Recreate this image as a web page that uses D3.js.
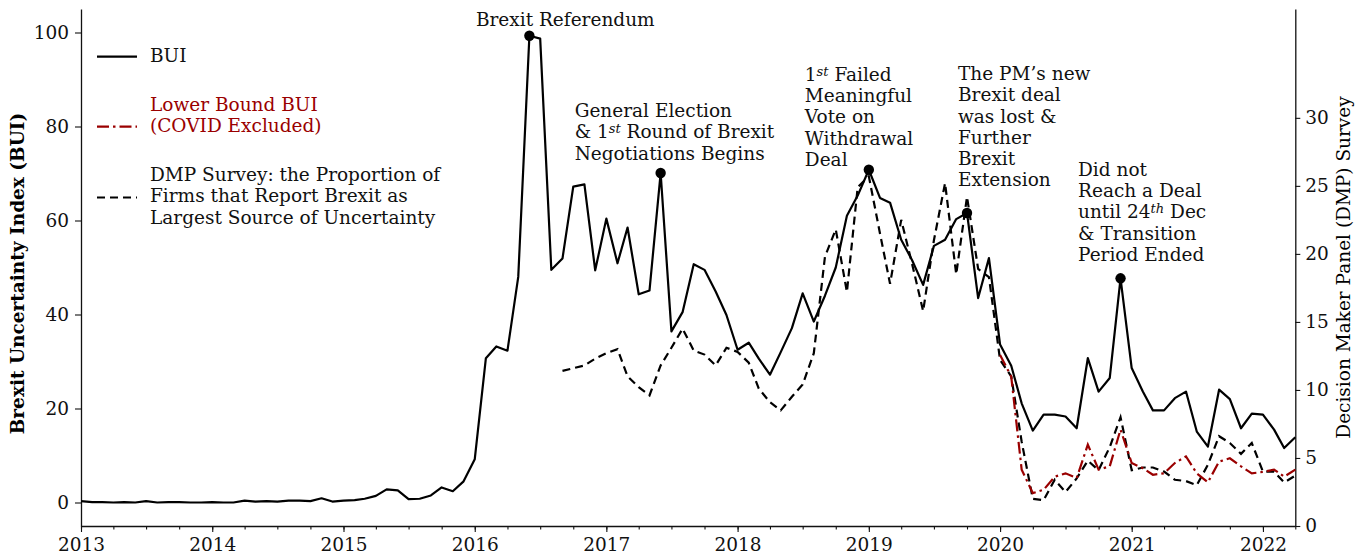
<!DOCTYPE html>
<html>
<head>
<meta charset="utf-8">
<script src="https://cdn.jsdelivr.net/npm/d3@7"></script>
<style>
	body { margin: 0; background: #fff; }
	svg { display: block; font-family: "DejaVu Serif", serif; }
</style>
</head>
<body>
<svg id="chart" width="1367" height="558"></svg>
<script>
// monthly BUI, Jan 2013 .. Apr 2022 (left axis)
const buiStart = "2013-01";
const bui = [
	0.3, 0.1, 0.1, 0.0, 0.1, 0.0, 0.3, 0.0, 0.1, 0.1, 0.0, 0.0,
	0.1, 0.0, 0.0, 0.4, 0.2, 0.3, 0.2, 0.4, 0.4, 0.3, 0.9, 0.2,
	0.4, 0.5, 0.8, 1.4, 2.8, 2.6, 0.7, 0.8, 1.5, 3.2, 2.4, 4.5,
	9.2, 30.7, 33.2, 32.3, 48.0, 99.3, 98.7, 49.5, 51.9, 67.2, 67.7, 49.4,
	60.4, 50.9, 58.5, 44.3, 45.1, 70.1, 36.4, 40.5, 50.7, 49.5, 44.9, 39.9,
	32.5, 34.0, 30.6, 27.2, 32.0, 37.1, 44.5, 38.5, 44.0, 50.0, 61.0, 65.3,
	70.8, 64.8, 63.8, 55.9, 51.6, 46.3, 54.6, 55.9, 60.3, 61.6, 43.5, 52.0,
	33.6, 29.1, 21.1, 15.3, 18.7, 18.7, 18.3, 15.8, 30.7, 23.6, 26.5, 47.7,
	28.6, 23.6, 19.6, 19.6, 22.2, 23.6, 15.1, 11.9, 24.0, 22.0, 15.8, 18.9,
	18.7, 15.5, 11.6, 13.9
];

// lower bound BUI (covid excluded), Jan 2020 .. Apr 2022 (left axis)
const lowerStart = "2020-01";
const lowerBound = [
	31.4, 26.8, 7.0, 2.0, 2.7, 5.5, 6.2, 5.2, 12.3, 7.0, 7.7, 15.5,
	8.4, 7.3, 5.9, 6.2, 8.4, 9.8, 6.2, 4.3, 8.7, 9.4, 7.7, 6.2,
	6.5, 7.0, 5.5, 7.0
];

// DMP survey share, Sep 2016 .. Apr 2022 (right axis)
const dmpStart = "2016-09";
const dmp = [
	11.4, 11.6, 11.8, 12.3,
	12.7, 13.0, 11.0, 10.2, 9.6, 11.8, 13.1, 14.5, 12.9, 12.6, 11.8, 13.1,
	12.8, 12.0, 10.1, 9.1, 8.5, 9.5, 10.4, 12.7, 19.8, 21.8, 17.2, 24.9,
	25.7, 21.5, 17.8, 22.5, 19.3, 15.8, 21.0, 25.2, 18.5, 24.2, 18.9, 18.3,
	12.2, 11.0, 6.2, 2.0, 1.9, 3.4, 2.5, 3.5, 4.8, 4.1, 5.8, 8.0,
	4.1, 4.3, 4.3, 4.0, 3.4, 3.3, 3.0, 4.5, 6.6, 6.1, 5.3, 6.1,
	4.0, 4.0, 3.2, 3.7
];

const buiTicks = [0, 20, 40, 60, 80, 100];
const dmpTicks = [0, 5, 10, 15, 20, 25, 30];

// annotated events; {xx} is a superscript
const events = [
	{month: "2016-06", lines: ["Brexit Referendum"], dx: -53.5, dy: -9.5},
	{month: "2017-06", lines: ["General Election", "& 1{st} Round of Brexit", "Negotiations Begins"], dx: -86, dy: -56},
	{month: "2019-01", lines: ["1{st} Failed", "Meaningful", "Vote on", "Withdrawal", "Deal"], dx: -64, dy: -89},
	{month: "2019-10", lines: ["The PM\u2019s new", "Brexit deal", "was lost &", "Further", "Brexit", "Extension"], dx: -9, dy: -133},
	{month: "2020-12", lines: ["Did not", "Reach a Deal", "until 24{th} Dec", "& Transition", "Period Ended"], dx: -42.5, dy: -102.5}
];

const red = "#9a0000";
const fs = 18.5;
const parseMonth = d3.timeParse("%Y-%m");

function monthly(start, values) {
	const t0 = parseMonth(start);
	return values.map((v, i) => ({date: d3.timeMonth.offset(t0, i), value: v}));
}

const svg = d3.select("#chart");
const margin = {top: 9, right: 72, bottom: 32, left: 81};
const width = 1367 - margin.left - margin.right + 0.3;
const height = 558 - margin.top - margin.bottom;

const x = d3.scaleTime()
	.domain([parseMonth("2013-01"), parseMonth("2022-04")])
	.range([0, width]);
const y = d3.scaleLinear().domain([-5, 105]).range([height, 0]);
const y2 = d3.scaleLinear().domain([0, 38]).range([height, 0]);

const g = svg.append("g").attr("transform", `translate(${margin.left},${margin.top})`);

// axes
g.append("g")
	.attr("transform", `translate(0,${height})`)
	.call(d3.axisBottom(x).ticks(d3.timeYear.every(1)).tickFormat(d3.timeFormat("%Y"))
		.tickSize(6).tickSizeOuter(0).tickPadding(5.5));
g.append("g")
	.attr("transform", `translate(0,${height})`)
	.call(d3.axisBottom(x).ticks(d3.timeMonth.every(3)).tickFormat("").tickSize(3.5).tickSizeOuter(0))
	.call(a => a.select(".domain").remove());

g.append("g")
	.call(d3.axisLeft(y).tickValues(buiTicks).tickSize(6).tickSizeOuter(0).tickPadding(6));
g.append("g")
	.attr("transform", `translate(${width},0)`)
	.call(d3.axisRight(y2).tickValues(dmpTicks).tickSize(5).tickSizeOuter(0).tickPadding(5));

g.selectAll(".tick text")
	.attr("font-family", "DejaVu Serif")
	.attr("font-size", fs)
	.attr("fill", "#111");
g.selectAll(".domain").attr("stroke", "#111").attr("stroke-width", 1.3);
g.selectAll(".tick line").attr("stroke", "#111").attr("stroke-width", 1.1);

svg.append("text")
	.attr("transform", `translate(24,${margin.top + height / 2 + 6}) rotate(-90)`)
	.attr("text-anchor", "middle")
	.attr("font-size", fs)
	.attr("font-weight", "bold")
	.text("Brexit Uncertainty Index (BUI)");

svg.append("text")
	.attr("transform", `translate(1350,${margin.top + height / 2}) rotate(-90)`)
	.attr("text-anchor", "middle")
	.attr("font-size", fs)
	.text("Decision Maker Panel (DMP) Survey");

// lines
const lineL = d3.line().x(d => x(d.date)).y(d => y(d.value));
const lineR = d3.line().x(d => x(d.date)).y(d => y2(d.value));

g.append("path")
	.datum(monthly(dmpStart, dmp))
	.attr("fill", "none").attr("stroke", "#000").attr("stroke-width", 2.2)
	.attr("stroke-dasharray", "8,5")
	.attr("d", lineR);

g.append("path")
	.datum(monthly(lowerStart, lowerBound))
	.attr("fill", "none").attr("stroke", red).attr("stroke-width", 2.2)
	.attr("stroke-dasharray", "12,4,2.5,4")
	.attr("d", lineL);

const buiData = monthly(buiStart, bui);
g.append("path")
	.datum(buiData)
	.attr("fill", "none").attr("stroke", "#000").attr("stroke-width", 2.2)
	.attr("stroke-linejoin", "round")
	.attr("d", lineL);

// event markers + text
function addLines(textSel, lines, x0, lh) {
	lines.forEach((ln, i) => {
		const tl = textSel.append("tspan").attr("x", x0).attr("dy", i === 0 ? 0 : lh);
		ln.split(/(\{\w+\})/).forEach(part => {
			if (!part) return;
			const m = part.match(/^\{(\w+)\}$/);
			if (m) {
				tl.append("tspan").attr("font-size", 13).attr("font-style", "italic")
					.attr("baseline-shift", "5.5").text(m[1]);
			} else {
				tl.append("tspan").text(part);
			}
		});
	});
}

events.forEach(ev => {
	const pt = buiData.find(d => +d.date === +parseMonth(ev.month));
	const cx = x(pt.date), cy = y(pt.value);
	g.append("circle").attr("cx", cx).attr("cy", cy).attr("r", 5.2).attr("fill", "#000");
	const t = g.append("text")
		.attr("x", cx + ev.dx).attr("y", cy + ev.dy)
		.attr("font-size", fs).attr("fill", "#111");
	addLines(t, ev.lines, cx + ev.dx, 21.3);
});

// legend
const legend = svg.append("g").attr("font-size", fs);
const legItems = [
	{lines: ["BUI"], color: "#111", dash: null, stroke: "#000", baseline: 61.7, hy: 56.7},
	{lines: ["Lower Bound BUI", "(COVID Excluded)"], color: red, dash: "12,4,2.5,4", stroke: red, baseline: 110.5, hy: 126.7},
	{lines: ["DMP Survey: the Proportion of", "Firms that Report Brexit as", "Largest Source of Uncertainty"], color: "#111", dash: "8,5", stroke: "#000", baseline: 181, hy: 197.5}
];
legItems.forEach(it => {
	legend.append("line")
		.attr("x1", 97).attr("x2", 137).attr("y1", it.hy).attr("y2", it.hy)
		.attr("stroke", it.stroke).attr("stroke-width", 2.2)
		.attr("stroke-dasharray", it.dash);
	const t = legend.append("text").attr("x", 150).attr("y", it.baseline).attr("fill", it.color);
	addLines(t, it.lines, 150, 21.3);
});
</script>
</body>
</html>
